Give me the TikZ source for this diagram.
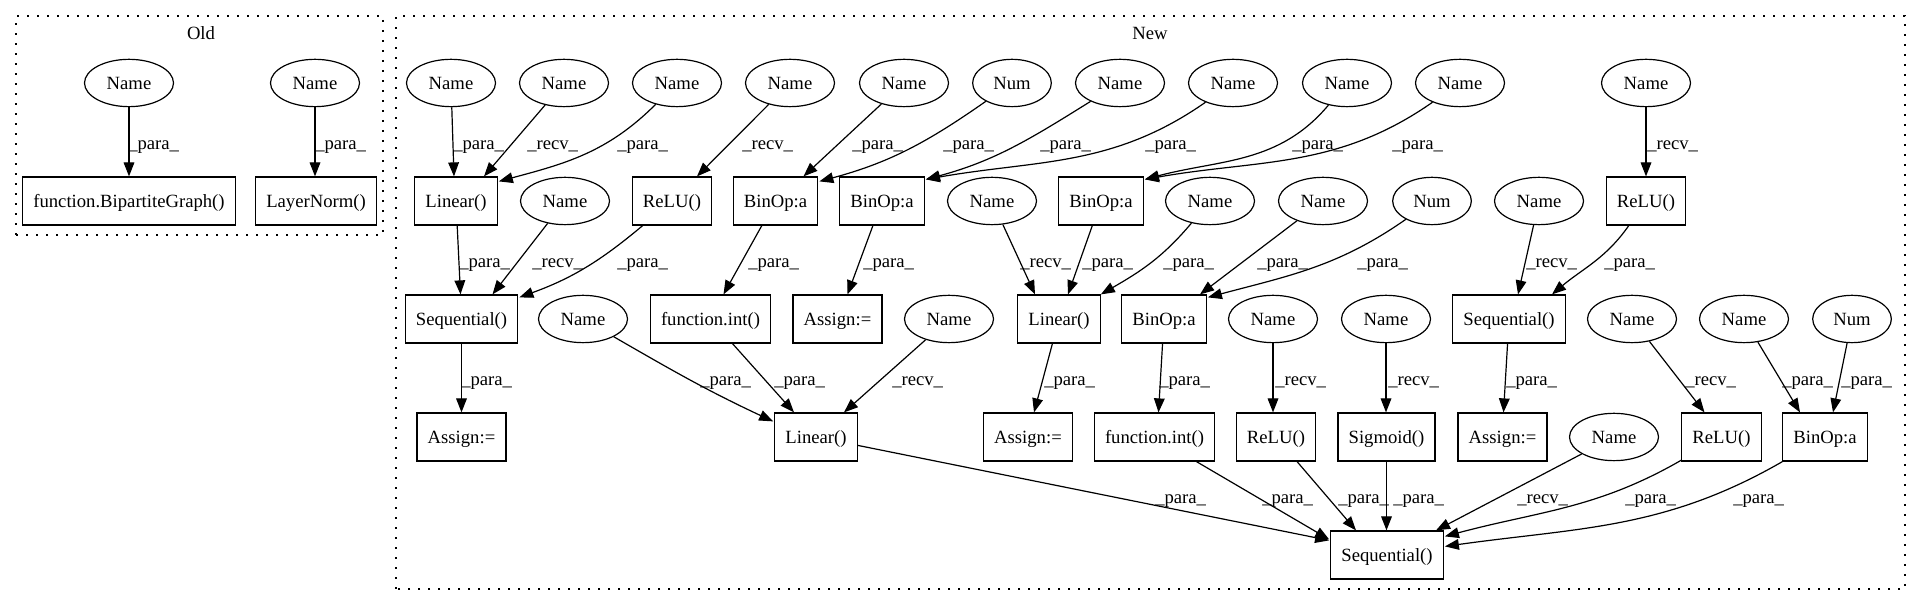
\documentclass[tikz,border=0pt]{standalone}
\usepackage{fontspec}
\setmainfont{Liberation Serif}
\usetikzlibrary{arrows.meta,calc,shapes.geometric}
\newcommand{\lblpara}{\_para\_}
\newcommand{\lblrecv}{\_recv\_}
\begin{document}
\begin{tikzpicture}[x=0.75pt,y=0.75pt,
  txt/.style={font=\fontsize{14}{16}\selectfont, text height=11.5pt, text depth=1pt},
  nm/.style={txt, draw, line width=0.9pt, ellipse, inner sep=0pt, minimum width=66.75pt, minimum height=35.5pt},
  num/.style={nm, minimum width=59pt},
  bx/.style={txt, draw, line width=0.9pt, rectangle, inner xsep=8pt, inner ysep=0pt, minimum width=54pt, minimum height=36pt},
  e/.style={line width=0.9pt, -{Triangle[length=10.5pt,width=8pt]}},
  lab/.style={font=\fontsize{14}{16}\selectfont, anchor=base west, inner sep=0pt},
  clus/.style={line width=1pt, dash pattern=on 1.5pt off 6pt},
  ttl/.style={txt, inner sep=0pt}
]
\useasboundingbox[fill=white] (0,0) rectangle (1920,606);

% clusters
\draw[clus] (16,371) rectangle (383,590);
\node[ttl] (toldt) at (201,573) {Old};
\draw[clus] (396,17) rectangle (1905,590);
\node[ttl] (tnewt) at (1150,573) {New};

% Old
\node[nm] (o1) at (129,523) {Name};
\node[nm] (o2) at (315,523) {Name};
\node[bx] (o3) at (129,405) {function.BipartiteGraph()};
\node[bx] (o4) at (316,405) {LayerNorm()};

% row 1
\node[nm] (a1) at (451,523) {Name};
\node[nm] (a2) at (564,523) {Name};
\node[nm] (a3) at (677,523) {Name};
\node[nm] (a4) at (790,523) {Name};
\node[nm] (a5) at (904,523) {Name};
\node[num] (a6) at (1012,523) {Num};
\node[nm] (a7) at (1120,523) {Name};
\node[nm] (a8) at (1233,523) {Name};
\node[nm] (a9) at (1347,523) {Name};
\node[nm] (a10) at (1460,523) {Name};
\node[nm] (a11) at (1646,523) {Name};

% row 2
\node[bx] (b1) at (456,405) {Linear()};
\node[nm] (b2) at (565,405) {Name};
\node[bx] (b3) at (672,405) {ReLU()};
\node[bx] (b4) at (775.5,405) {BinOp:a};
\node[bx] (b5) at (882,405) {BinOp:a};
\node[nm] (b6) at (992,405) {Name};
\node[bx] (b7) at (1101,405) {BinOp:a};
\node[nm] (b8) at (1210,405) {Name};
\node[nm] (b9) at (1323,405) {Name};
\node[num] (b10) at (1432,405) {Num};
\node[nm] (b11) at (1539,405) {Name};
\node[bx] (b12) at (1646,405) {ReLU()};

% row 3
\node[bx] (c1) at (461.5,287) {Sequential()};
\node[nm] (c2) at (583,287) {Name};
\node[bx] (c3) at (710.5,287) {function.int()};
\node[bx] (c4) at (837.5,287) {Assign:=};
\node[nm] (c5) at (949,287) {Name};
\node[bx] (c6) at (1059,287) {Linear()};
\node[bx] (c7) at (1164,287) {BinOp:a};
\node[nm] (c8) at (1273,287) {Name};
\node[nm] (c9) at (1386,287) {Name};
\node[bx] (c10) at (1509,287) {Sequential()};
\node[nm] (c11) at (1632,287) {Name};
\node[nm] (c12) at (1744,287) {Name};
\node[num] (c13) at (1852,287) {Num};

% row 4
\node[bx] (d1) at (461.5,169) {Assign:=};
\node[bx] (d2) at (816,169) {Linear()};
\node[bx] (d3) at (1028,169) {Assign:=};
\node[bx] (d4) at (1154.5,169) {function.int()};
\node[bx] (d5) at (1276,169) {ReLU()};
\node[bx] (d6) at (1386.5,169) {Sigmoid()};
\node[bx] (d7) at (1502.5,169) {Assign:=};
\node[nm] (d8) at (1614,169) {Name};
\node[bx] (d9) at (1721.5,169) {ReLU()};
\node[bx] (d10) at (1825,169) {BinOp:a};

% row 5
\node[bx] (e1) at (1387,51) {Sequential()};

% edges Old
\draw[e] (o1) -- (o3);
\draw[e] (o2) -- (o2 |- o4.north);

% row 1 -> 2
\draw[e] (a1) -- ($(b1.north)+(-2,0)$);
\draw[e] (a2) -- ($(b1.north)+(28,0)$);
\draw[e] (a3) to[out=-135,in=15] ($(b1.north east)+(1,-5)$);
\draw[e] (a4) -- ($(b3.north)+(25,0)$);
\draw[e] (a5) -- ($(b4.north)+(28,0)$);
\draw[e] (a6) to[out=-145,in=15] ($(b4.north east)+(1,-5)$);
\draw[e] (a7) to[out=-148,in=15] ($(b5.north east)+(1,-3)$);
\draw[e] (a8) to[out=-145,in=10] ($(b5.north east)+(1,-3)$);
\draw[e] (a9) to[out=-130,in=15] ($(b7.north east)+(1,-3)$);
\draw[e] (a10) to[out=-145,in=10] ($(b7.north east)+(1,-3)$);
\draw[e] (a11) -- (b12);

% row 2 -> 3
\draw[e] (b1) -- ($(c1.north)+(-1,0)$);
\draw[e] (b2) -- ($(c1.north)+(31,0)$);
\draw[e] (b3) to[out=-140,in=20] ($(c1.north east)+(1,-3)$);
\draw[e] (b4) -- ($(c3.north)+(13,0)$);
\draw[e] (b5) -- ($(c4.north)+(10,0)$);
\draw[e] (b6) -- ($(c6.north)+(-24,0)$);
\draw[e] (b7) -- ($(c6.north)+(9,0)$);
\draw[e] (b8) to[out=-130,in=30] (c6.north east);
\draw[e] (b9) -- ($(c7.north)+(36,0)$);
\draw[e] (b10) to[out=-145,in=15] ($(c7.north east)+(1,-3)$);
\draw[e] (b11) -- ($(c10.north)+(9,0)$);
\draw[e] (b12) to[out=-125,in=40] ($(c10.north)+(43,0)$);

% row 3 -> 4
\draw[e] (c1) -- (d1);
\draw[e] (c2) to[out=-30,in=155] ($(d2.north west)+(-1,-9)$);
\draw[e] (c3) -- ($(d2.north)+(-22,0)$);
\draw[e] (c5) -- ($(d2.north)+(28,0)$);
\draw[e] (c6) -- ($(d3.north)+(6,0)$);
\draw[e] (c7) -- ($(d4.north)+(4,0)$);
\draw[e] (c8) -- (c8 |- d5.north);
\draw[e] (c9) -- (c9 |- d6.north);
\draw[e] (c10) -- ($(d7.north)+(1,0)$);
\draw[e] (c11) -- ($(d9.north)+(-17,0)$);
\draw[e] (c12) -- ($(d10.north)+(-25,0)$);
\draw[e] (c13) -- ($(d10.north)+(8,0)$);

% row 4 -> 5
\draw[e] (d2) -- ($(e1.north west)+(-1,-10)$);
\draw[e] (d4) -- ($(e1.north west)+(-1,-9)$);
\draw[e] (d5) -- ($(e1.north)+(-31,0)$);
\draw[e] (d6) -- (d6 |- e1.north);
\draw[e] (d8) -- ($(e1.north)+(49,0)$);
\draw[e] (d9) to[out=-150,in=15] ($(e1.north east)+(1,-6)$);
\draw[e] (d10) to[out=-150,in=8] ($(e1.north east)+(1,-16)$);

% labels
\node[lab] (lo1) at (128,456) {\lblpara};
\node[lab] (lo2) at (315,456) {\lblpara};
\foreach \x/\t [count=\i] in {453/\lblpara,527/\lblrecv,617/\lblpara,742/\lblrecv,852/\lblpara,943/\lblpara,1040/\lblpara,1145/\lblpara,1292/\lblpara,1392/\lblpara,1647/\lblrecv}
  \node[lab] (la\i) at (\x,456) {\t};
\foreach \x/\t [count=\i] in {459/\lblpara,532/\lblrecv,617/\lblpara,748/\lblpara,863/\lblpara,1020/\lblrecv,1082/\lblpara,1163/\lblpara,1257/\lblpara,1357/\lblpara,1526/\lblrecv,1604/\lblpara}
  \node[lab] (lb\i) at (\x,338) {\t};
\foreach \x/\t [count=\i] in {461/\lblpara,700/\lblpara,774/\lblpara,892/\lblrecv,1044/\lblpara,1159/\lblpara,1275/\lblrecv,1388/\lblrecv,1506/\lblpara,1685/\lblrecv,1782/\lblpara,1841/\lblpara}
  \node[lab] (lc\i) at (\x,220) {\t};
\foreach \x/\t [count=\i] in {1155/\lblpara,1262/\lblpara,1338/\lblpara,1393/\lblpara,1517/\lblrecv,1625/\lblpara,1733/\lblpara}
  \node[lab] (ld\i) at (\x,102) {\t};
\end{tikzpicture}
\end{document}
